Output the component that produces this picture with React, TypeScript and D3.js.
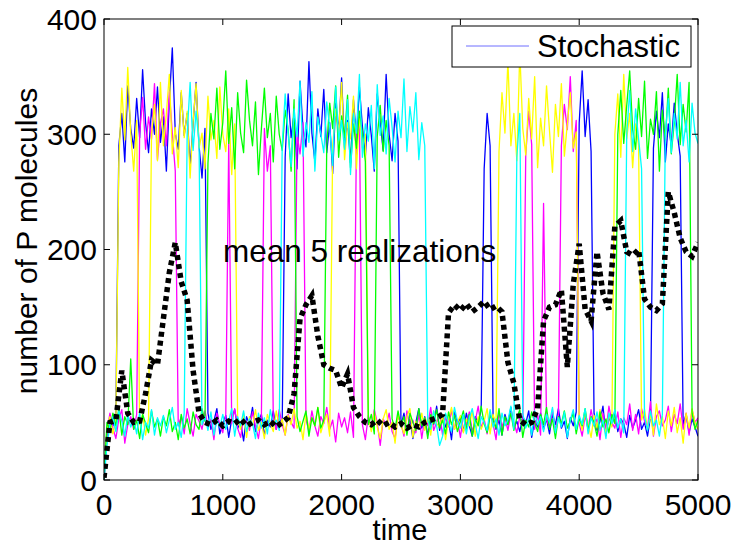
import React, { useEffect, useRef } from 'react';
import * as d3 from 'd3';

// sampled every 25 time units, 0..5000
const blueSeries = [
  0, 38, 52, 47, 55, 290, 318, 276, 342, 305, 288, 331, 297, 356, 310, 284, 322, 300, 341, 293,
  315, 268, 329, 375, 301, 287, 336, 299, 318, 272, 309, 345, 290, 262, 305, 58, 44, 51, 62, 40,
  49, 56, 37, 53, 61, 45, 50, 34, 55, 48, 63, 42, 51, 57, 39, 52, 46, 60, 44, 53,
  49, 280, 335, 297, 318, 270, 346, 305, 289, 363, 301, 276, 322, 298, 339, 284, 310, 266, 327, 302,
  349, 288, 312, 275, 330, 296, 341, 307, 281, 323, 299, 268, 335, 310, 286, 352, 300, 277, 318, 294,
  47, 58, 41, 53, 36, 50, 62, 45, 55, 39, 51, 48, 64, 43, 57, 46, 52, 35, 60, 49,
  54, 42, 58, 47, 38, 55, 50, 61, 270, 318, 290, 56, 44, 52, 39, 57, 48, 63, 45, 51,
  42, 55, 49, 60, 37, 52, 46, 58, 44, 53, 40, 57, 48, 62, 45, 51, 36, 54, 47, 59,
  310, 355, 298, 330, 285, 58, 43, 51, 64, 39, 55, 47, 60, 42, 53, 49, 37, 56, 45, 52,
  61, 44, 50, 38, 55, 288, 320, 297, 336, 276, 309, 290, 327, 301, 281, 48, 57, 41, 53, 46,
  38,
];

const magentaSeries = [
  0, 42, 58, 45, 36, 53, 61, 32, 48, 55, 44, 57, 300, 332, 287, 315, 296, 344, 278, 309,
  322, 290, 337, 301, 268, 47, 55, 40, 62, 49, 38, 57, 51, 44, 60, 46, 53, 35, 58, 48,
  41, 56, 295, 49, 62, 45, 37, 54, 50, 43, 59, 47, 36, 55, 305, 268, 290, 52, 44, 61,
  48, 39, 57, 50, 45, 300, 283, 310, 53, 42, 60, 47, 38, 55, 49, 63, 44, 52, 33, 58,
  46, 54, 41, 59, 37, 298, 315, 48, 35, 56, 44, 61, 50, 30, 53, 47, 58, 42, 36, 55,
  49, 38, 60, 45, 52, 41, 57, 36, 54, 47, 63, 43, 50, 58, 39, 55, 46, 61, 44, 52,
  37, 56, 48, 59, 42, 51, 64, 45, 53, 40, 57, 49, 35, 60, 46, 54, 43, 58, 50, 41,
  55, 47, 282, 320, 291, 44, 57, 39, 240, 52, 46, 61, 43, 55, 290, 326, 304, 350, 285, 312,
  49, 38, 56, 44, 61, 47, 53, 35, 58, 42, 64, 50, 45, 59, 37, 54, 48, 66, 43, 57,
  40, 62, 51, 45, 68, 38, 55, 60, 47, 52, 64, 42, 57, 49, 66, 44, 58, 39, 61, 50,
  54,
];

const yellowSeries = [
  0, 45, 55, 40, 51, 276, 340, 295, 358, 301, 268, 312, 48, 57, 39, 53, 300, 326, 277, 345,
  290, 318, 352, 283, 306, 271, 338, 297, 320, 262, 311, 344, 288, 301, 270, 333, 295, 312, 279, 341,
  300, 285, 322, 265, 309, 52, 44, 58, 37, 55, 47, 61, 43, 50, 36, 57, 49, 42, 60, 46,
  53, 39, 56, 48, 62, 45, 51, 35, 58, 44, 54, 47, 63, 41, 50, 57, 38, 290, 322, 301,
  345, 278, 310, 296, 333, 270, 315, 288, 300, 55, 42, 59, 46, 36, 53, 61, 44, 50, 32, 57,
  48, 40, 55, 62, 37, 51, 45, 58, 43, 54, 39, 60, 49, 46, 57, 35, 52, 63, 44, 50,
  56, 41, 53, 47, 60, 38, 55, 44, 51, 62, 40, 57, 48, 285, 336, 301, 364, 290, 318, 277,
  372, 305, 282, 331, 296, 350, 271, 314, 290, 342, 303, 267, 326, 298, 344, 281, 309, 336, 288, 302,
  54, 43, 59, 48, 37, 56, 45, 61, 50, 41, 57, 46, 300, 335, 280, 352, 296, 318, 271, 309,
  290, 52, 61, 44, 57, 39, 66, 48, 55, 36, 60, 47, 63, 41, 54, 32, 58, 45, 62, 50,
  44,
];

const greenSeries = [
  0, 50, 43, 58, 47, 62, 39, 55, 48, 105, 44, 52, 36, 57, 49, 41, 60, 46, 53, 38,
  55, 47, 61, 42, 50, 35, 57, 45, 53, 40, 59, 48, 44, 62, 51, 275, 318, 296, 340, 287,
  310, 355, 292, 323, 270, 336, 301, 284, 347, 312, 290, 328, 265, 305, 340, 297, 318, 276, 333, 300,
  286, 321, 304, 268, 330, 55, 42, 51, 60, 38, 54, 47, 63, 45, 52, 290, 327, 305, 342, 280,
  316, 297, 334, 271, 309, 288, 320, 301, 276, 48, 57, 40, 298, 325, 285, 312, 290, 53, 44, 60,
  46, 55, 39, 58, 50, 43, 62, 47, 54, 36, 57, 49, 61, 45, 52, 40, 59, 48, 56, 42,
  51, 60, 44, 57, 38, 53, 47, 64, 49, 41, 56, 52, 45, 62, 39, 55, 48, 58, 43, 54,
  61, 37, 52, 46, 59, 50, 42, 57, 48, 63, 44, 53, 36, 55, 49, 60, 45, 51, 58, 40,
  54, 47, 62, 43, 55, 50, 38, 59, 46, 53, 41, 57, 49, 300, 338, 292, 325, 355, 304, 287,
  331, 298, 346, 279, 313, 300, 337, 268, 321, 295, 340, 283, 310, 352, 291, 326, 302, 345, 58, 44,
  52,
];

const cyanSeries = [
  0, 30, 48, 55, 42, 60, 51, 38, 57, 46, 53, 40, 58, 35, 50, 45, 61, 39, 54, 47,
  56, 41, 52, 63, 44, 50, 37, 58, 300, 345, 286, 320, 292, 48, 55, 43, 59, 39, 52, 46,
  57, 44, 51, 62, 38, 55, 47, 60, 42, 53, 49, 36, 58, 45, 54, 40, 61, 47, 52, 43,
  290, 335, 301, 272, 322, 298, 346, 281, 310, 293, 337, 268, 315, 300, 284, 328, 306, 273, 341, 295,
  312, 287, 330, 265, 318, 301, 352, 280, 309, 294, 325, 270, 343, 299, 316, 283, 331, 306, 276, 320,
  297, 348, 285, 324, 302, 336, 278, 310, 290, 52, 44, 60, 47, 30, 38, 58, 49, 42, 63, 51,
  45, 57, 40, 54, 62, 48, 36, 55, 50, 43, 61, 46, 53, 39, 58, 47, 52, 64, 44, 280,
  318, 58, 45, 53, 39, 60, 48, 55, 42, 57, 50, 63, 41, 54, 46, 59, 37, 52, 61, 44,
  56, 48, 62, 40, 54, 47, 59, 43, 52, 36, 58, 49, 61, 45, 53, 41, 300, 338, 285, 322,
  296, 270, 55, 43, 60, 47, 52, 38, 57, 300, 331, 284, 318, 296, 345, 290, 312, 276, 327, 301,
  292,
];

// sampled every 50 time units, 0..5000
const meanSeries = [
  2, 50, 52, 95, 58, 50, 51, 75, 104, 100,
  140, 180, 206, 172, 156, 95, 58, 50, 48, 52,
  47, 51, 49, 53, 47, 50, 52, 48, 51, 46,
  50, 54, 75, 140, 152, 160, 125, 100, 97, 95,
  80, 92, 63, 55, 50, 48, 52, 47, 50, 46,
  49, 45, 48, 46, 50, 52, 54, 57, 145, 152,
  147, 153, 146, 150, 155, 148, 151, 146, 102, 84,
  52, 48, 50, 62, 138, 150, 152, 165, 98, 170,
  205, 148, 138, 198, 162, 148, 220, 225, 198, 195,
  200, 157, 150, 147, 153, 250, 232, 210, 198, 194,
  206,
];

const xTicks = [0, 1000, 2000, 3000, 4000, 5000];
const yTicks = [0, 100, 200, 300, 400];

const seriesList = [
  { values: blueSeries, color: '#0000ff' },
  { values: magentaSeries, color: '#ff00ff' },
  { values: yellowSeries, color: '#ffff00' },
  { values: greenSeries, color: '#00ff00' },
  { values: cyanSeries, color: '#00ffff' },
];

const FONT = '"Liberation Sans", Arial, Helvetica, sans-serif';

const App = () => {
  const svgRef = useRef<SVGSVGElement>(null);

  useEffect(() => {
    const width = 734;
    const height = 547;

    const svg = d3.select(svgRef.current).attr('width', width).attr('height', height);
    svg.selectAll('*').remove();

    const x = d3.scaleLinear().domain([0, 5000]).range([104, 698]);
    const y = d3.scaleLinear().domain([0, 400]).range([480, 19]);

    svg.append('rect').attr('width', width).attr('height', height).attr('fill', '#fff');

    svg
      .append('clipPath')
      .attr('id', 'plot-clip')
      .append('rect')
      .attr('x', x(0))
      .attr('y', y(400))
      .attr('width', x(5000) - x(0))
      .attr('height', y(0) - y(400));

    const plot = svg.append('g').attr('clip-path', 'url(#plot-clip)');

    const line = d3
      .line<number>()
      .x((d, i) => x(i * 25))
      .y((d) => y(d));

    seriesList.forEach((s) => {
      plot
        .append('path')
        .attr('d', line(s.values))
        .attr('fill', 'none')
        .attr('stroke', s.color)
        .attr('stroke-width', 1.3)
        .attr('stroke-linejoin', 'round');
    });

    const meanLine = d3
      .line<number>()
      .x((d, i) => x(i * 50))
      .y((d) => y(d));

    plot
      .append('path')
      .attr('d', meanLine(meanSeries))
      .attr('fill', 'none')
      .attr('stroke', '#000')
      .attr('stroke-width', 5.5)
      .attr('stroke-dasharray', '5 4');

    // axes box
    svg
      .append('rect')
      .attr('x', x(0))
      .attr('y', y(400))
      .attr('width', x(5000) - x(0))
      .attr('height', y(0) - y(400))
      .attr('fill', 'none')
      .attr('stroke', '#000')
      .attr('stroke-width', 1);

    const tickLen = 6;
    xTicks.forEach((t) => {
      svg
        .append('line')
        .attr('x1', x(t))
        .attr('x2', x(t))
        .attr('y1', y(0))
        .attr('y2', y(0) - tickLen)
        .attr('stroke', '#000');
      svg
        .append('line')
        .attr('x1', x(t))
        .attr('x2', x(t))
        .attr('y1', y(400))
        .attr('y2', y(400) + tickLen)
        .attr('stroke', '#000');
      svg
        .append('text')
        .attr('x', x(t))
        .attr('y', 515)
        .attr('text-anchor', 'middle')
        .attr('font-family', FONT)
        .attr('font-size', 30)
        .text(t);
    });

    yTicks.forEach((v) => {
      svg
        .append('line')
        .attr('x1', x(0))
        .attr('x2', x(0) + tickLen)
        .attr('y1', y(v))
        .attr('y2', y(v))
        .attr('stroke', '#000');
      svg
        .append('line')
        .attr('x1', x(5000))
        .attr('x2', x(5000) - tickLen)
        .attr('y1', y(v))
        .attr('y2', y(v))
        .attr('stroke', '#000');
      svg
        .append('text')
        .attr('x', 97)
        .attr('y', y(v) + 10.5)
        .attr('text-anchor', 'end')
        .attr('font-family', FONT)
        .attr('font-size', 30)
        .text(v);
    });

    svg
      .append('text')
      .attr('x', 400)
      .attr('y', 540)
      .attr('text-anchor', 'middle')
      .attr('font-family', FONT)
      .attr('font-size', 29)
      .text('time');

    svg
      .append('text')
      .attr('transform', 'translate(37,241) rotate(-90)')
      .attr('text-anchor', 'middle')
      .attr('font-family', FONT)
      .attr('font-size', 30)
      .text('number of P molecules');

    svg
      .append('text')
      .attr('x', 223)
      .attr('y', 262)
      .attr('font-family', FONT)
      .attr('font-size', 31.5)
      .text('mean 5 realizations');

    // legend
    const legend = svg.append('g');
    legend
      .append('rect')
      .attr('x', 452)
      .attr('y', 26)
      .attr('width', 239)
      .attr('height', 41)
      .attr('fill', '#fff')
      .attr('stroke', '#000');
    legend
      .append('line')
      .attr('x1', 466)
      .attr('x2', 529)
      .attr('y1', 46)
      .attr('y2', 46)
      .attr('stroke', '#6f6fff')
      .attr('stroke-width', 1);
    legend
      .append('text')
      .attr('x', 537)
      .attr('y', 57)
      .attr('font-family', FONT)
      .attr('font-size', 31)
      .text('Stochastic');
  }, []);

  return <svg ref={svgRef} style={{ position: 'absolute', left: 0, top: 0 }}></svg>;
};

export default App;
